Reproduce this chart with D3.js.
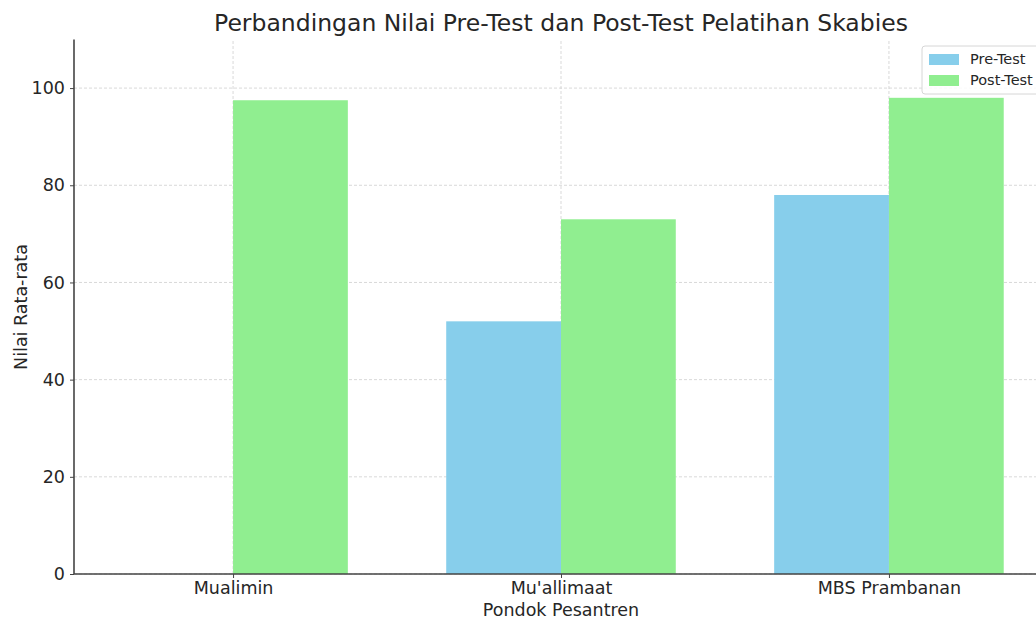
<!DOCTYPE html>
<html>
<head>
<meta charset="utf-8">
<script src="https://cdn.jsdelivr.net/npm/d3@7"></script>
<style>
  body { margin: 0; background: #fff; }
  text { font-family: "DejaVu Sans", sans-serif; fill: #262626; }
</style>
</head>
<body>
<svg width="1036" height="621"></svg>
<script>
var svg = d3.select('svg');

// data
var categories = ["Mualimin", "Mu'allimaat", "MBS Prambanan"];
var preTest = [0, 52, 78];
var postTest = [97.5, 73, 98];
var seriesNames = ["Pre-Test", "Post-Test"];
var yTicks = [0, 20, 40, 60, 80, 100];

var colors = ['#87ceeb', '#90ee90'];
var barW = 0.35;

var x = d3.scaleLinear().domain([-0.485, 2.485]).range([74, 1048]);
var y = d3.scaleLinear().domain([0, 110]).range([574, 39.5]);

// grid
svg.append('g').selectAll('line')
    .data(yTicks)
    .enter()
    .append('line')
    .attr('x1', 74).attr('x2', 1048)
    .attr('y1', function(d){ return y(d); })
    .attr('y2', function(d){ return y(d); })
    .attr('stroke', '#cfcfcf')
    .attr('stroke-width', 0.8)
    .attr('stroke-dasharray', '3,2');

svg.append('g').selectAll('line')
    .data(categories)
    .enter()
    .append('line')
    .attr('x1', function(d, i){ return x(i); })
    .attr('x2', function(d, i){ return x(i); })
    .attr('y1', y(0)).attr('y2', y(110))
    .attr('stroke', '#cfcfcf')
    .attr('stroke-width', 0.8)
    .attr('stroke-dasharray', '3,2');

// bars
var rows = categories.map(function(c, i){
    return {i: i, pre: preTest[i], post: postTest[i]};
});

svg.append('g').selectAll('rect')
    .data(rows)
    .enter()
    .append('rect')
    .attr('x', function(d){ return x(d.i - barW); })
    .attr('y', function(d){ return y(d.pre); })
    .attr('width', x(barW) - x(0))
    .attr('height', function(d){ return y(0) - y(d.pre); })
    .attr('fill', colors[0]);

svg.append('g').selectAll('rect')
    .data(rows)
    .enter()
    .append('rect')
    .attr('x', function(d){ return x(d.i); })
    .attr('y', function(d){ return y(d.post); })
    .attr('width', x(barW) - x(0))
    .attr('height', function(d){ return y(0) - y(d.post); })
    .attr('fill', colors[1]);

// axes
var yAxis = svg.append('g')
    .attr('transform', 'translate(74,0)')
    .call(d3.axisLeft(y).tickValues(yTicks).tickSize(4).tickPadding(5));

var xAxis = svg.append('g')
    .attr('transform', 'translate(0,574)')
    .call(d3.axisBottom(x).tickValues([0, 1, 2]).tickSize(4).tickPadding(4)
        .tickFormat(function(d){ return categories[d]; }));

[yAxis, xAxis].forEach(function(a){
    a.select('.domain').attr('stroke', '#444').attr('stroke-width', 1.6);
    a.selectAll('.tick line').attr('stroke', '#444');
    a.selectAll('.tick text').attr('font-size', 17.5).attr('fill', '#262626')
        .style('font-family', '"DejaVu Sans", sans-serif');
});
xAxis.select('.domain').attr('d', 'M74,0H1048');
yAxis.select('.domain').attr('d', 'M0,' + y(110) + 'V' + y(0));

// labels
svg.append('text')
    .attr('x', 561).attr('y', 31)
    .attr('text-anchor', 'middle')
    .attr('font-size', 23.5)
    .attr('fill', '#333')
    .text('Perbandingan Nilai Pre-Test dan Post-Test Pelatihan Skabies');

svg.append('text')
    .attr('x', 561).attr('y', 616)
    .attr('text-anchor', 'middle')
    .attr('font-size', 17.5)
    .text('Pondok Pesantren');

svg.append('text')
    .attr('transform', 'translate(27,307) rotate(-90)')
    .attr('text-anchor', 'middle')
    .attr('font-size', 17.5)
    .text('Nilai Rata-rata');

// legend
var legend = svg.append('g').attr('transform', 'translate(922,46)');
legend.append('rect')
    .attr('x', 0).attr('y', 0)
    .attr('width', 130).attr('height', 48)
    .attr('rx', 3)
    .attr('fill', 'rgba(255,255,255,0.85)')
    .attr('stroke', '#d6d6d6');
legend.selectAll('.sw')
    .data(seriesNames)
    .enter()
    .append('rect')
    .attr('x', 7)
    .attr('y', function(d, i){ return 8 + i * 21; })
    .attr('width', 30).attr('height', 11)
    .attr('fill', function(d, i){ return colors[i]; });
legend.selectAll('.lb')
    .data(seriesNames)
    .enter()
    .append('text')
    .attr('x', 48)
    .attr('y', function(d, i){ return 18 + i * 21; })
    .attr('font-size', 14.5)
    .text(function(d){ return d; });
</script>
</body>
</html>
